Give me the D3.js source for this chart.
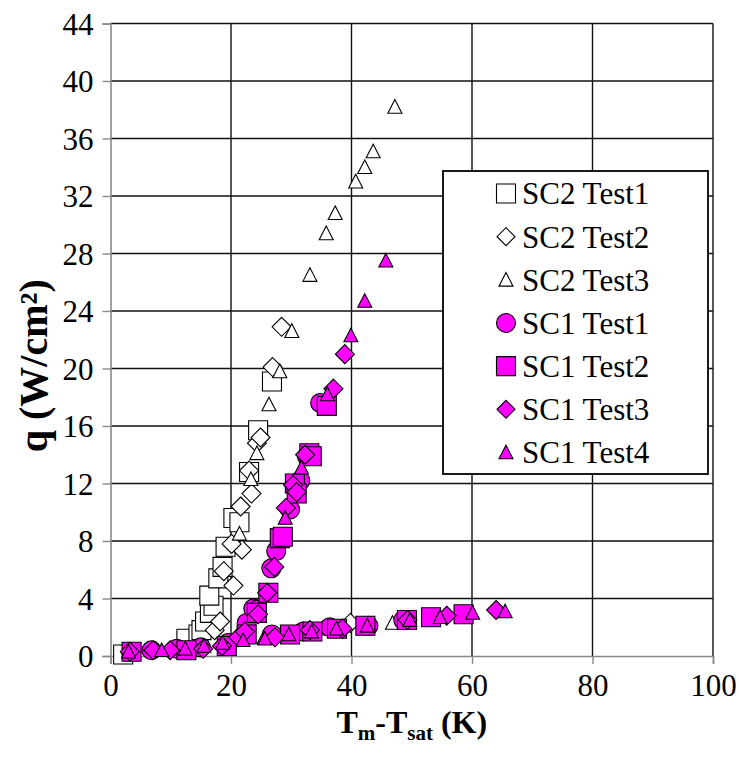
<!DOCTYPE html>
<html>
<head>
<meta charset="utf-8">
<script src="https://cdn.jsdelivr.net/npm/d3@7/dist/d3.min.js"></script>
<style>
  html, body { margin: 0; padding: 0; background: #fff; }
  svg { display: block; }
  svg text { font-family: "Liberation Serif", "Times New Roman", serif; }
</style>
</head>
<body>
<svg id="chart" width="739" height="758"></svg>
<script>
// Boiling curves: heat flux q versus wall superheat Tm - Tsat
const xTicks = [0, 20, 40, 60, 80, 100];
const yTicks = [0, 4, 8, 12, 16, 20, 24, 28, 32, 36, 40, 44];

const sc2Test1 = [[2.1,0.1],[12.6,1.2],[14.6,1.5],[15.1,1.8],[15.7,2.4],[16.5,3.0],[17.1,3.5],[16.4,4.2],[17.9,5.4],[18.6,6.2],[19.1,7.6],[20.4,9.6],[21.4,9.3],[23.0,12.8],[24.5,15.7],[26.8,19.1]];
const sc2Test2 = [[17.3,1.8],[18.2,2.4],[20.4,4.9],[18.8,5.9],[21.8,7.4],[20.1,7.8],[21.6,10.4],[23.4,11.3],[23.0,12.9],[24.3,14.8],[24.9,15.2],[26.9,20.1],[28.4,22.9],[39.8,2.3]];
const sc2Test3 = [[25.5,1.3],[35.2,1.9],[46.8,2.3],[21.4,8.5],[23.3,12.3],[24.3,14.1],[26.3,17.5],[28.1,19.8],[30.1,22.6],[33.1,26.5],[35.8,29.4],[37.3,30.8],[40.7,33.0],[42.2,34.0],[43.6,35.1],[47.2,38.2]];
const sc1Test1 = [[6.8,0.4],[11.0,0.5],[15.0,0.6],[19.5,0.9],[22.6,2.3],[23.7,3.3],[24.3,3.2],[26.7,6.1],[27.5,7.3],[29.8,10.2],[31.5,12.2],[32.6,13.9],[34.8,17.6],[26.8,1.5],[32.0,1.7],[36.4,2.0],[42.8,2.1],[48.6,2.5]];
const sc1Test2 = [[3.5,0.3],[12.6,0.4],[19.3,0.7],[22.6,1.5],[24.3,3.0],[26.2,4.4],[28.1,8.2],[28.6,8.3],[30.6,12.0],[30.9,11.3],[33.0,14.1],[33.4,13.9],[35.9,17.4],[29.8,1.5],[33.5,1.7],[37.6,1.9],[42.3,2.1],[49.2,2.5],[53.2,2.7],[58.6,2.9]];
const sc1Test3 = [[3.2,0.3],[7.1,0.4],[9.9,0.4],[15.4,0.5],[18.5,0.7],[21.2,1.3],[22.3,1.7],[24.5,2.9],[26.0,4.4],[27.2,6.2],[29.1,10.3],[30.3,11.9],[30.9,11.4],[32.3,14.0],[37.0,18.6],[38.9,21.0],[27.3,1.3],[33.1,1.8],[38.5,1.9],[49.3,2.5],[55.8,2.8],[64.0,3.2]];
const sc1Test4 = [[3.0,0.3],[8.5,0.4],[12.4,0.5],[15.5,0.7],[18.6,0.9],[22.0,1.1],[25.6,1.2],[29.6,1.5],[33.4,1.7],[37.5,1.9],[42.6,2.1],[49.7,2.5],[54.7,2.7],[60.1,3.0],[65.5,3.1],[29.0,9.6],[31.7,13.1],[36.0,18.2],[39.9,22.3],[42.2,24.7],[45.7,27.5]];

const seriesNames = ["SC2 Test1", "SC2 Test2", "SC2 Test3", "SC1 Test1", "SC1 Test2", "SC1 Test3", "SC1 Test4"];
const seriesData = [sc2Test1, sc2Test2, sc2Test3, sc1Test1, sc1Test2, sc1Test3, sc1Test4];

const MAGENTA = "#ff00ff";
const SERIF = "'Liberation Serif', 'Times New Roman', serif";
const styles = [
  { shape: "square",   fill: "#fff",  size: 19, legendSize: 19 },
  { shape: "diamond",  fill: "#fff",  size: 19, legendSize: 18 },
  { shape: "triangle", fill: "#fff",  size: 14, legendSize: 14 },
  { shape: "circle",   fill: MAGENTA, size: 19, legendSize: 19 },
  { shape: "square",   fill: MAGENTA, size: 19, legendSize: 19 },
  { shape: "diamond",  fill: MAGENTA, size: 19, legendSize: 18 },
  { shape: "triangle", fill: MAGENTA, size: 14, legendSize: 14 }
];

const svg = d3.select("#chart");
const margin = { left: 110.5, right: 26, top: 23.5, bottom: 102 };
const W = 739, H = 758;

const x = d3.scaleLinear().domain([0, 100]).range([margin.left, W - margin.right]);
const y = d3.scaleLinear().domain([0, 44]).range([H - margin.bottom, margin.top]);

// marker path for a given shape and box size, centred at 0,0
function markerPath(shape, s) {
  const h = s / 2;
  const p = d3.path();
  if (shape === "square") {
    p.rect(-h, -h, s, s);
  } else if (shape === "diamond") {
    p.moveTo(0, -h); p.lineTo(h, 0); p.lineTo(0, h); p.lineTo(-h, 0); p.closePath();
  } else if (shape === "triangle") {
    const th = s * 0.9;
    p.moveTo(0, -th / 2 - 1); p.lineTo(h, th / 2); p.lineTo(-h, th / 2); p.closePath();
  } else {
    p.arc(0, 0, h, 0, 2 * Math.PI);
  }
  return p.toString();
}

// grid lines
const grid = svg.append("g");
grid.selectAll("line.v").data(xTicks.filter(d => d > 0)).join("line")
  .attr("x1", d => x(d)).attr("x2", d => x(d))
  .attr("y1", y(44)).attr("y2", y(0))
  .attr("stroke", "#111").attr("stroke-width", 1.4);
grid.selectAll("line.h").data(yTicks.filter(d => d > 0)).join("line")
  .attr("x1", x(0)).attr("x2", x(100))
  .attr("y1", d => y(d)).attr("y2", d => y(d))
  .attr("stroke", "#111").attr("stroke-width", 1.4);

// axes
const xAxis = d3.axisBottom(x).tickValues(xTicks).tickSize(8).tickPadding(6).tickFormat(d3.format("d"));
const yAxis = d3.axisLeft(y).tickValues(yTicks).tickSize(8).tickPadding(9).tickFormat(d3.format("d"));

const gx = svg.append("g").attr("transform", `translate(0,${y(0)})`).call(xAxis);
const gy = svg.append("g").attr("transform", `translate(${x(0)},0)`).call(yAxis);
[gx, gy].forEach(g => {
  g.attr("font-family", SERIF).attr("font-size", 31);
  g.select(".domain").attr("stroke", "#888").attr("stroke-width", 1.6);
  g.selectAll(".tick line").attr("stroke", "#888").attr("stroke-width", 1.4);
  g.selectAll(".tick text").attr("fill", "#000");
});
gx.selectAll(".tick text").attr("dy", "0.85em");
gy.selectAll(".tick text").attr("dy", "0.34em");

// markers, series drawn in order so later ones sit on top
const plot = svg.append("g");
seriesData.forEach((data, i) => {
  const st = styles[i];
  plot.append("g").selectAll("path").data(data).join("path")
    .attr("transform", d => `translate(${x(d[0])},${y(d[1])})`)
    .attr("d", markerPath(st.shape, st.size))
    .attr("fill", st.fill)
    .attr("stroke", "#000")
    .attr("stroke-width", 1.1);
});

// axis titles
svg.append("text")
  .attr("x", (x(0) + x(100)) / 2).attr("y", 733)
  .attr("text-anchor", "middle")
  .attr("font-family", SERIF).attr("font-size", 32).attr("font-weight", "bold")
  .call(t => {
    t.append("tspan").text("T");
    t.append("tspan").attr("dy", 7).attr("font-size", 21).text("m");
    t.append("tspan").attr("dy", -7).text("-T");
    t.append("tspan").attr("dy", 7).attr("font-size", 21).text("sat");
    t.append("tspan").attr("dy", -7).text(" (K)");
  });

svg.append("text")
  .attr("transform", `translate(47,${(y(0) + y(44)) / 2 + 26}) rotate(-90)`)
  .attr("text-anchor", "middle")
  .attr("font-family", SERIF).attr("font-size", 40).attr("font-weight", "bold")
  .text("q (W/cm²)");

// legend
const legend = svg.append("g");
legend.append("rect")
  .attr("x", 443).attr("y", 171).attr("width", 265).attr("height", 303)
  .attr("fill", "#fff").attr("stroke", "#000").attr("stroke-width", 1.8);
const rowY = d3.scalePoint().domain(seriesNames).range([193.5, 452.5]);
seriesNames.forEach((name, i) => {
  const st = styles[i];
  const cy = rowY(name);
  legend.append("path")
    .attr("transform", `translate(506,${cy})`)
    .attr("d", markerPath(st.shape, st.legendSize))
    .attr("fill", st.fill).attr("stroke", "#000").attr("stroke-width", 1.1);
  legend.append("text")
    .attr("x", 522).attr("y", cy).attr("dy", "0.35em")
    .attr("font-family", SERIF).attr("font-size", 31)
    .text(name);
});
</script>
</body>
</html>
